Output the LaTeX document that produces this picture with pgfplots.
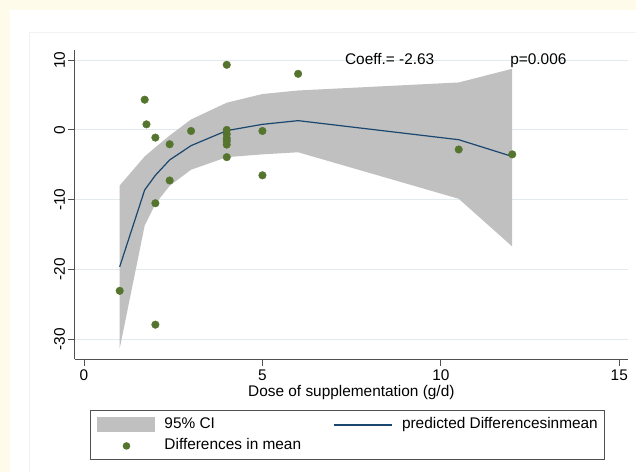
\documentclass[border=0pt]{standalone}
\usepackage{pgfplots}
\pgfplotsset{compat=1.18}
\usepackage{fontspec}
\setmainfont{Liberation Sans}
\definecolor{cream}{HTML}{FFFBEA}
\definecolor{ciGray}{HTML}{C0C0C0}
\definecolor{navyS}{HTML}{1A476F}
\definecolor{greenS}{HTML}{55752F}
\definecolor{gridC}{HTML}{E1EBEE}
\definecolor{axisC}{HTML}{505050}
\begin{document}
\begin{tikzpicture}[x=1pt,y=1pt]
\useasboundingbox (0,0) rectangle (636,472);
\fill[cream] (0,0) rectangle (636,472);
\fill[white] (10,0) rectangle (636,462);
\draw[black!5,line width=0.8pt] (29,0) -- (29,440) -- (636,440);
\begin{axis}[
  at={(74.7pt,112.7pt)}, anchor=south west,
  scale only axis, width=553.3pt, height=309.3pt,
  xmin=-0.261, xmax=15.244, ymin=-32.86, ymax=11.45,
  axis x line*=bottom, axis y line*=left,
  axis line style={-, color=axisC, line width=1pt},
  tick style={color=axisC, line width=1pt},
  tick align=outside, major tick length=6.5pt,
  xtick={0,5,10,15}, ytick={-30,-20,-10,0,10},
  ymajorgrids, grid style={gridC, line width=0.9pt},
  font=\fontsize{15.4}{18}\selectfont,
  /pgf/number format/assume math mode=true,
  yticklabel style={rotate=90, anchor=south, inner sep=3pt},
  xticklabel style={inner sep=4pt},
  xlabel={Dose of supplementation (g/d)},
  xlabel style={at={(axis description cs:0.5,-0.1212)}, anchor=base, inner sep=0pt},
  legend columns=2,
  legend cell align=left,
  legend style={at={(axis description cs:0.0277,-0.1639)}, anchor=north west,
    draw=axisC, line width=0.9pt, inner xsep=7pt, inner ysep=7pt,
    font=\fontsize{15.4}{18}\selectfont,
    nodes={inner sep=0pt, text height=11pt, text depth=3pt},
    row sep=6.5pt,
    /tikz/every odd column/.append style={column sep=9pt},
    /tikz/every even column/.append style={column sep=32.5pt}},
]
\addplot[fill=ciGray, draw=none,
  legend image code/.code={\fill[ciGray, draw=none] (0pt,-7.5pt) rectangle (58pt,7.5pt);}]
  coordinates {
  (1,-7.96) (1.7,-3.8) (2,-2.5) (2.4,-0.8) (3,1.5) (4,3.9) (5,5.14) (6,5.65) (10.5,6.8) (12,8.76)
  (12,-16.7) (10.5,-9.86) (6,-3.2) (5,-3.5) (4,-3.9) (3,-5.7) (2.4,-8.0) (2,-10.6) (1.7,-13.7) (1,-31.3)
  } -- cycle;
\addlegendentry{95\% CI}
\addplot[navyS, line width=1.2pt, mark=none,
  legend image code/.code={\draw[navyS, line width=1.4pt] (0pt,0pt) -- (58pt,0pt);}]
  coordinates {
  (1,-19.6) (1.7,-8.6) (2,-6.5) (2.4,-4.3) (3,-2.25) (4,-0.1) (5,0.8) (6,1.33) (10.5,-1.4) (12,-3.8)
  };
\addlegendentry{predicted Differencesinmean}
\addplot[only marks, mark=*, mark size=3.8pt, color=greenS, mark options={fill=greenS, draw=greenS},
  legend image code/.code={\path[draw=none, fill=none] (0pt,0pt) -- (58pt,0pt); \fill[greenS, draw=none] (29pt,0pt) circle (3.8pt);}]
  coordinates {
  (1.0,-23.05) (1.7,4.33) (1.75,0.8) (2.0,-1.1) (2.0,-10.5) (2.0,-27.9)
  (2.4,-2.05) (2.4,-7.24) (3.0,-0.15) (4.0,9.33) (4.0,0.0) (4.0,-0.6)
  (4.0,-1.2) (4.0,-1.6) (4.0,-2.1) (4.0,-3.9) (5.0,-0.15) (5.0,-6.5)
  (6.0,8.04) (10.5,-2.8) (12.0,-3.5)
  };
\addlegendentry{Differences in mean}
\node[anchor=base west, inner sep=0pt] at (axis cs:7.31,9.43) {Coeff.= -2.63};
\node[anchor=base west, inner sep=0pt] at (axis cs:11.94,9.43) {p=0.006};
\end{axis}
\end{tikzpicture}
\end{document}
